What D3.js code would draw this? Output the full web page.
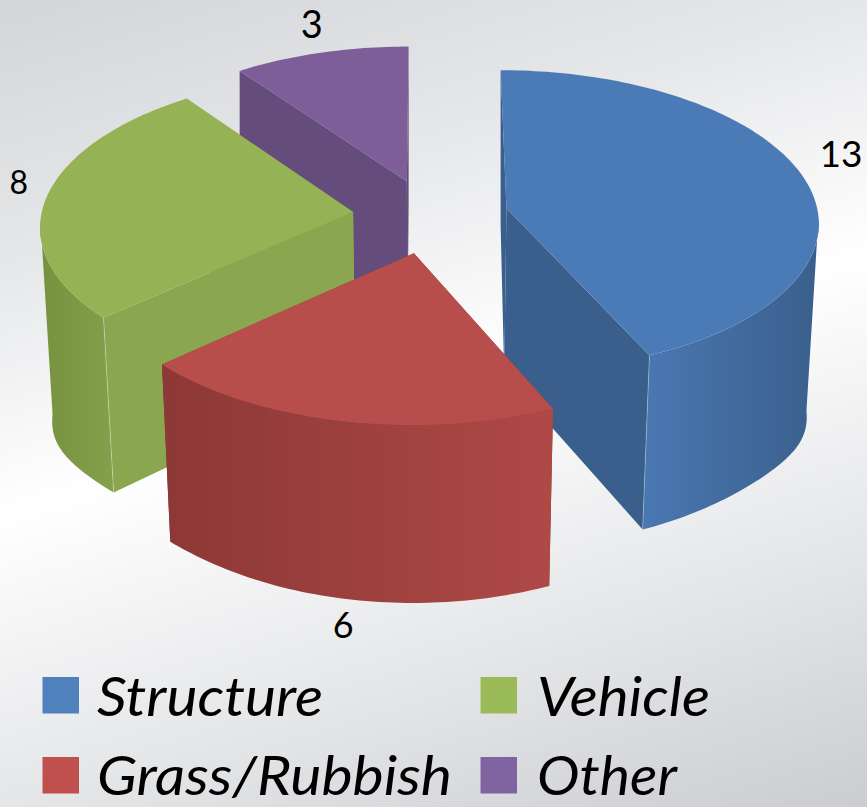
<!DOCTYPE html>
<html><head><meta charset="utf-8">
<script src="https://cdn.jsdelivr.net/npm/d3@7"></script>
<style>html,body{margin:0;padding:0;background:#fff}svg{display:block}</style>
</head><body><div id="c"></div>
<script>
const categories = ["Structure","Grass/Rubbish","Vehicle","Other"];
const values = [13,6,8,3];
const legendColors = ["#4f81bd","#c0504d","#9bbb59","#8064a2"];
const topColors = ["#4b7bb6","#b84e4b","#95b255","#7d5e99"];
const faceColors = ["#3a5f8c","#8e3a38","#8aa64e","#644c7c"];
const wallLeft = ["#4a78b2","#8c3836","#77923f","#644c7c"];
const wallRight = ["#3a5f8c","#ae4946","#85a04b","#644c7c"];

const W=867,H=807;
const svg=d3.select("#c").append("svg").attr("width",W).attr("height",H);
const defs=svg.append("defs");

// background
const bg=defs.append("linearGradient").attr("id","bg").attr("gradientUnits","userSpaceOnUse")
  .attr("x1",0).attr("y1",0).attr("x2",298).attr("y2",985);
[[0,"#d3d5d8"],[.245,"#e6e7e9"],[.48,"#ffffff"],[.76,"#e4e5e7"],[1,"#cbccd0"]].forEach(([o,c])=>
  bg.append("stop").attr("offset",o).attr("stop-color",c));
svg.append("rect").attr("width",W).attr("height",H).attr("fill","url(#bg)");

// projection of the exploded pie
const Fx=12, FyFront=11, FyBack=14, explode=.25, shrink=.031;
const sx=d3.scaleLinear().domain([0,1]).range([430.5,742.5]);
const sy=d3.scaleLinear().domain([0,1]).range([216,67]);
const TAU=2*Math.PI;
function topPt(x,y){
  const px=Fx/(Fx+y), Fy=y<0?FyFront:FyBack, py=Fy/(Fy+y);
  return [sx(0)+(sx(x)-sx(0))*px, sy(0)+(sy(y)-sy(0))*py];
}
function bottomPt(x,y,a,r){
  const t=topPt(x,y);
  const s=Math.pow(Math.sin(a),8)*r;
  const converge=shrink*Math.min(1,Math.max(0,1-y));
  return [t[0]-(t[0]-sx(0))*converge, t[1]+166-9.5*y+28*s];
}
const pie=d3.pie().sort(null).startAngle(0).endAngle(TAU);
const arcs=pie(values).map((d,i)=>{
  const mid=(d.startAngle+d.endAngle)/2;
  return {...d,i,mid,ox:explode*Math.sin(mid),oy:explode*Math.cos(mid)};
});
const line=d3.line();
const rim=(d,a)=>[d.ox+Math.sin(a),d.oy+Math.cos(a)];
const sample=(a0,a1)=>{const n=Math.max(2,Math.ceil((a1-a0)/.02));return d3.range(n+1).map(k=>a0+(a1-a0)*k/n);};
const T=(d,a)=>topPt(...rim(d,a));
const B=(d,a)=>bottomPt(...rim(d,a),a,1);

function radial(g,d,a,color){
  g.append("path").attr("fill",color)
   .attr("d",line([topPt(d.ox,d.oy),T(d,a),B(d,a),bottomPt(d.ox,d.oy,a,0)])+"Z");
}
function wall(g,d){
  const as=sample(d.startAngle,d.endAngle).filter(a=>Math.cos(a)<=-.05);
  if(as.length<2) return;
  const tp=as.map(a=>T(d,a)), bt=as.map(a=>B(d,a)).reverse();
  const all=tp.concat(bt);
  const id="wall"+d.i;
  const gr=defs.append("linearGradient").attr("id",id).attr("gradientUnits","userSpaceOnUse")
    .attr("x1",d3.min(all,p=>p[0])).attr("x2",d3.max(all,p=>p[0])).attr("y1",0).attr("y2",0);
  gr.append("stop").attr("offset",0).attr("stop-color",wallLeft[d.i]);
  gr.append("stop").attr("offset",1).attr("stop-color",wallRight[d.i]);
  g.append("path").attr("fill","url(#"+id+")").attr("d",line(all)+"Z");
}
const order=[3,0,2,1];
order.forEach(i=>{
  const d=arcs[i];
  const g=svg.append("g");
  const faces=[{a:d.startAngle,n:d.startAngle-Math.PI/2},{a:d.endAngle,n:d.endAngle+Math.PI/2}];
  const front=f=>Math.cos(f.n)<-.01;
  faces.filter(f=>!front(f)).forEach(f=>radial(g,d,f.a,faceColors[i]));
  wall(g,d);
  faces.filter(front).forEach(f=>{
    radial(g,d,f.a,faceColors[i]);
    if(i===0||i===2) g.append("path").attr("fill","none").attr("stroke","#fff").attr("stroke-opacity",.3)
      .attr("d",line([T(d,f.a),B(d,f.a)]));
  });
  const as=sample(d.startAngle,d.endAngle);
  g.append("path").attr("fill",topColors[i])
    .attr("d",line([topPt(d.ox,d.oy),...as.map(a=>T(d,a))])+"Z");
});

// value labels
const labelOffsets=[[37,-25],[3,203],[-28,-15],[-9,-30]];
const labelSizes=[37,36,32,38];
arcs.forEach((d,i)=>{
  const p=T(d,d.mid);
  svg.append("text").attr("x",p[0]+labelOffsets[i][0]).attr("y",p[1]+labelOffsets[i][1])
    .attr("text-anchor","middle").attr("dominant-baseline","central")
    .attr("font-family","Lato,'Open Sans',sans-serif").attr("font-size",labelSizes[i])
    .attr("fill","#000").text(values[i]);
});

// legend
const legendX=[42.5,480.5], legendTextX=[97,537], legendY=[677,757], baselines=[716,795];
const textWidths=[226,355,173,140];
const legendSlots=[[0,0],[0,1],[1,0],[1,1]];
categories.forEach((c,i)=>{
  const [col,row]=legendSlots[i];
  svg.append("rect").attr("x",legendX[col]).attr("y",legendY[row]).attr("width",36.5).attr("height",36.5)
    .attr("fill",legendColors[i]);
  svg.append("text").attr("x",legendTextX[col]).attr("y",baselines[row])
    .attr("font-family","Lato,'Open Sans',sans-serif").attr("font-style","italic").attr("font-size",54)
    .attr("textLength",textWidths[i]).attr("lengthAdjust","spacingAndGlyphs")
    .attr("fill","#000").text(c);
});
</script></body></html>
